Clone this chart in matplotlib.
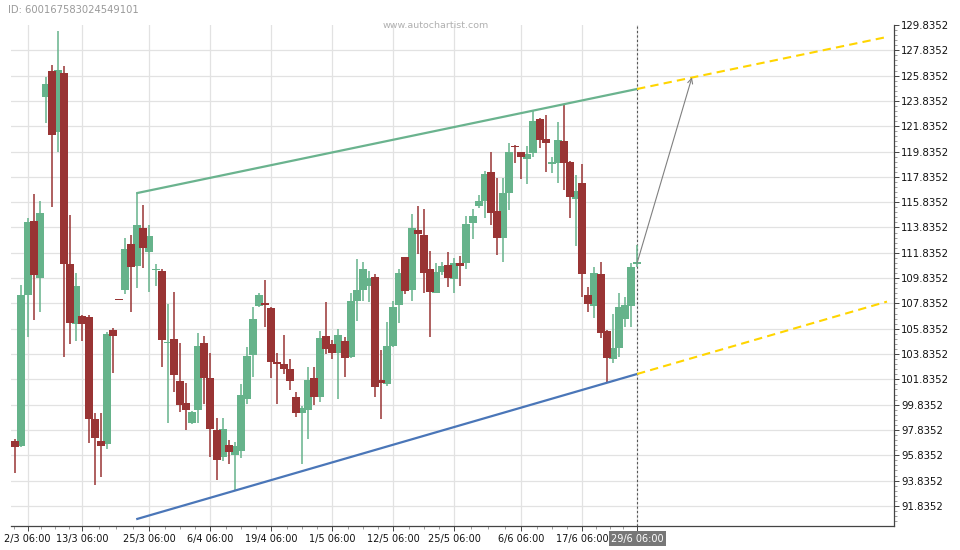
#!/usr/bin/env python

# candlestick chart with a rising channel and projected target (autochartist style)

import numpy as np
import matplotlib
matplotlib.use('Agg')
from matplotlib import pyplot as plt

# daily bars, index 0..102
opens = [96.97, 96.58, 108.50, 114.35, 109.85, 124.15, 126.20, 121.38, 126.04, 110.95,
         106.21, 106.85, 106.77, 98.71, 96.97, 96.74, 105.74, 108.14, 108.90, 112.53,
         110.80, 113.80, 111.90, 110.44, 110.37, 104.68, 105.03, 101.71, 99.97, 98.39,
         99.42, 104.71, 101.95, 97.84, 95.72, 96.66, 95.87, 96.18, 100.29, 103.77,
         107.63, 107.87, 107.48, 103.13, 103.05, 102.66, 100.45, 99.18, 99.42, 101.95,
         100.45, 105.27, 104.63, 103.92, 104.87, 103.61, 108.03, 108.90, 109.21, 109.93,
         101.79, 101.48, 104.47, 107.71, 111.51, 108.90, 113.64, 113.24, 110.53, 108.66,
         110.30, 110.85, 109.77, 111.03, 111.03, 114.19, 115.54, 115.93, 118.20, 115.14,
         113.00, 116.56, 120.28, 119.80, 119.22, 119.72, 122.41, 120.83, 118.89, 118.93,
         120.67, 118.99, 116.09, 117.35, 108.50, 107.63, 110.16, 105.66, 103.45, 104.32,
         106.61, 107.63, 110.99]
highs = [97.13, 109.29, 114.59, 116.48, 115.93, 125.72, 126.68, 129.36, 126.60, 114.82,
         110.24, 106.93, 106.93, 99.18, 99.18, 105.59, 105.90, 108.14, 113.00, 113.24,
         116.56, 115.62, 114.03, 110.95, 110.53, 107.79, 108.74, 104.71, 101.55, 99.34,
         105.50, 105.27, 103.92, 98.79, 98.79, 97.05, 96.89, 101.48, 104.40, 107.55,
         108.66, 109.69, 107.55, 103.92, 105.35, 103.45, 100.84, 99.74, 102.82, 102.82,
         105.66, 107.95, 104.95, 105.82, 105.19, 108.66, 111.35, 111.11, 110.37, 110.16,
         104.16, 106.37, 108.03, 110.53, 111.51, 114.90, 115.54, 115.30, 111.98, 111.03,
         111.11, 111.90, 111.43, 111.59, 114.74, 115.30, 116.40, 118.30, 119.80, 117.75,
         117.75, 120.51, 120.36, 119.80, 120.28, 123.04, 122.49, 122.73, 119.40, 122.17,
         123.59, 119.09, 117.99, 118.85, 109.13, 110.72, 111.11, 105.74, 107.00, 108.66,
         108.34, 111.03, 112.46]
lows = [94.44, 96.50, 105.19, 106.53, 107.16, 122.09, 115.46, 119.80, 103.61, 104.63,
        104.87, 104.87, 96.81, 93.50, 94.13, 96.34, 102.34, 108.07, 108.58, 107.16,
        109.06, 110.64, 108.74, 109.21, 102.82, 98.39, 100.84, 99.26, 97.84, 98.31,
        98.39, 99.89, 95.72, 93.89, 95.40, 95.16, 93.10, 95.64, 99.89, 102.03,
        107.55, 105.98, 101.95, 99.89, 102.26, 100.99, 98.87, 95.16, 97.13, 99.81,
        100.05, 103.85, 103.45, 100.29, 102.03, 103.53, 106.45, 108.03, 107.95, 100.45,
        98.71, 101.32, 104.40, 106.29, 108.58, 108.03, 111.74, 108.66, 105.19, 108.66,
        110.08, 109.13, 108.66, 109.21, 110.53, 112.93, 115.38, 114.59, 114.03, 111.67,
        111.11, 115.22, 118.93, 117.67, 117.28, 119.40, 120.12, 118.20, 118.12, 117.36,
        116.80, 114.59, 112.38, 108.34, 107.16, 106.69, 105.11, 101.55, 103.13, 103.61,
        105.98, 105.98, 110.72]
closes = [96.50, 108.50, 114.27, 110.08, 114.98, 125.17, 121.14, 126.28, 110.95, 106.29,
          109.21, 106.21, 98.71, 97.21, 96.58, 105.43, 105.27, 108.07, 112.13, 110.72,
          114.03, 112.22, 113.16, 110.52, 104.95, 104.76, 102.18, 99.81, 99.42, 99.26,
          104.47, 101.95, 97.92, 95.48, 97.92, 96.10, 96.58, 100.61, 103.69, 106.61,
          108.50, 107.75, 103.21, 103.05, 102.66, 101.71, 99.18, 99.58, 101.79, 100.45,
          105.11, 104.24, 103.92, 105.35, 103.53, 108.03, 108.90, 110.53, 109.85, 101.24,
          101.55, 104.47, 107.55, 110.24, 108.82, 113.80, 113.32, 110.24, 108.74, 110.30,
          110.80, 109.85, 111.03, 110.80, 114.11, 114.74, 115.93, 118.06, 114.98, 113.00,
          116.56, 119.80, 120.16, 119.40, 119.62, 122.25, 120.75, 120.51, 118.97, 120.75,
          118.93, 116.24, 116.72, 110.16, 107.79, 110.24, 105.51, 103.53, 104.32, 107.55,
          107.71, 110.72, 111.07]

tick_idx = [2, 11, 22, 32, 42, 52, 62, 72, 83, 93, 102]
tick_labels = ['2/3 06:00', '13/3 06:00', '25/3 06:00', '6/4 06:00', '19/4 06:00',
               '1/5 06:00', '12/5 06:00', '25/5 06:00', '6/6 06:00', '17/6 06:00',
               '29/6 06:00']

# channel lines and projection
channel_x = [20, 102]
upper_y = [116.56, 124.78]
lower_y = [90.81, 102.26]
proj_x = [102, 143]
proj_upper = [124.78, 128.89]
proj_lower = [102.26, 107.98]
arrow_from = (102, 111.03)
arrow_to = (111, 125.70)

GREEN = '#66b38b'
RED = '#993434'

plt.rcParams['font.family'] = ['DejaVu Sans']
fig = plt.figure(figsize=(9.6, 5.5), dpi=100)
ax = fig.add_axes([11 / 960, 1 - 526 / 550, 883 / 960, 501 / 550])

o = np.array(opens)
h = np.array(highs)
l = np.array(lows)
c = np.array(closes)
x = np.arange(len(o))
up = c >= o
body_w = 1.31

for mask, col in ((up, GREEN), (~up, RED)):
    ax.vlines(x[mask], l[mask], h[mask], color=col, lw=1.1, zorder=3)
    bottom = np.minimum(o, c)[mask]
    height = np.maximum(np.abs(c - o)[mask], 0.12)
    ax.bar(x[mask], height, bottom=bottom, width=body_w, color=col,
           linewidth=0, zorder=3)

ax.plot(channel_x, upper_y, color='#6ab38e', lw=1.6, zorder=4)
ax.plot(channel_x, lower_y, color='#4a76b8', lw=1.6, zorder=4)
ax.plot(proj_x, proj_upper, color='#ffd500', lw=1.5, ls=(0, (4, 2.5)), zorder=4)
ax.plot(proj_x, proj_lower, color='#ffd500', lw=1.5, ls=(0, (4, 2.5)), zorder=4)
ax.annotate('', xy=arrow_to, xytext=arrow_from,
            arrowprops=dict(arrowstyle='->', color='#808080', lw=0.8,
                            shrinkA=0, shrinkB=0, mutation_scale=9), zorder=5)
ax.axvline(102, color='#555555', lw=0.8, ls=(0, (2, 2)), zorder=2)

ax.set_xlim(-0.72, 144.15)
ax.set_ylim(90.25, 129.8352)

yt = np.arange(91.8352, 129.9, 2.0)
ax.yaxis.tick_right()
ax.set_yticks(yt)
ax.set_yticklabels(['%.4f' % v for v in yt])
ax.set_yticks(np.arange(90.6352, 129.84, 0.4), minor=True)
ax.set_xticks(tick_idx)
ax.set_xticklabels(tick_labels)
xm = []
for a, b in zip(tick_idx[:-1], tick_idx[1:]):
    xm += [a + (b - a) * k / 4.0 for k in (1, 2, 3)]
xm.append(tick_idx[0] - 2.2)
ax.set_xticks(xm, minor=True)

ax.grid(True, which='major', color='#e2e2e2', lw=0.9, zorder=0)
ax.set_axisbelow(True)
# no grid line along the very top edge
ax.get_ygridlines()[-1].set_visible(False)
for s in ('left', 'top'):
    ax.spines[s].set_visible(False)
for s in ('right', 'bottom'):
    ax.spines[s].set_color('#444444')
    ax.spines[s].set_linewidth(0.9)
ax.tick_params(axis='both', which='major', length=3.5, width=0.7, colors='#444444',
               labelcolor='#111111', labelsize=7.3, pad=1.5)
ax.tick_params(axis='both', which='minor', length=2, width=0.5, colors='#777777')
ax.tick_params(axis='x', labelsize=7.0, pad=2)

lab = ax.get_xticklabels()[-1]
lab.set_color('white')
lab.set_bbox(dict(facecolor='#777777', edgecolor='none', pad=1.6))

fig.text(8 / 960, 1 - 10 / 550, 'ID: 600167583024549101', color='#9a9a9a',
         fontsize=7.2, va='center', ha='left')
fig.text(436 / 960, 1 - 25 / 550, 'www.autochartist.com', color='#b0b0b0',
         fontsize=6.8, va='center', ha='center')

fig.savefig('out.png', dpi=100)
